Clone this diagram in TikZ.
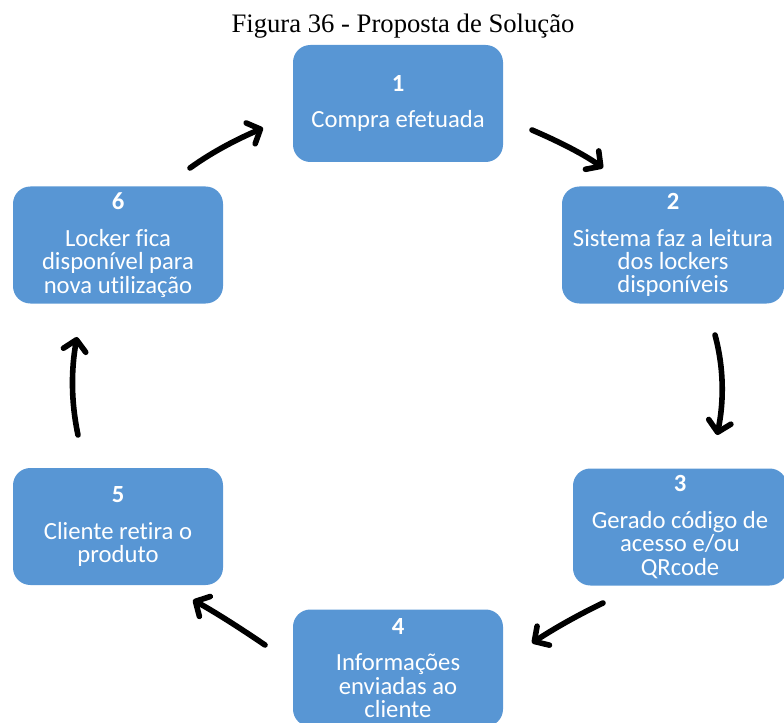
\documentclass[tikz,border=0pt]{standalone}
\usepackage{fontspec}
\setmainfont{Liberation Serif}
\newfontfamily\boxfont[Ligatures={NoCommon,NoRequired,NoContextual}]{Carlito}
\usetikzlibrary{arrows.meta}
\definecolor{boxblue}{RGB}{88,150,212}
\begin{document}
\begin{tikzpicture}[x=0.75pt,y=-0.75pt,
  stepbox/.style={fill=boxblue, rounded corners=13pt, minimum width=157.5pt,
    minimum height=87.75pt, text=white,
    font=\boxfont\fontsize{18.5}{17.5}\selectfont, align=center, inner sep=0pt},
  flow/.style={line width=4.2pt, line cap=round,
    -{Straight Barb[length=8pt,width=17pt,line width=4.2pt,round]}}]
\useasboundingbox (0,0) rectangle (784,723);
\node[font=\fontsize{20}{24}\selectfont, anchor=base] (title) at (403,33) {Figura 36 - Proposta de Solução};

\node[stepbox] (n1) at (398,103.5) {\textbf{1}\\[10pt]Compra efetuada};
\node[stepbox, minimum width=166.5pt] (n2) at (673,245) {\textbf{2}\\[10pt]Sistema faz a leitura\\dos lockers\\disponíveis};
\node[stepbox, minimum width=160.5pt] (n3) at (680,527) {\textbf{3}\\[10pt]Gerado código de\\acesso e/ou\\QRcode};
\node[stepbox] (n4) at (398,668) {\textbf{4}\\[10pt]Informações\\enviadas ao\\cliente};
\node[stepbox] (n5) at (118,526.5) {\textbf{5}\\[10pt]Cliente retira o\\produto};
\node[stepbox] (n6) at (118,245) {\textbf{6}\\[10pt]Locker fica\\disponível para\\nova utilização};

\coordinate (a12s) at (532,130);
\coordinate (a12e) at (603,168);
\coordinate (a23s) at (715,335);
\coordinate (a23e) at (717,435);
\coordinate (a34s) at (603,603);
\coordinate (a34e) at (532,643);
\coordinate (a45s) at (265,645);
\coordinate (a45e) at (193,600);
\coordinate (a56s) at (78,435);
\coordinate (a56e) at (77,337);
\coordinate (a61s) at (190,168);
\coordinate (a61e) at (263,128);

\draw[flow] (a12s) .. controls (560,142) and (585,155) .. (a12e);
\draw[flow] (a23s) .. controls (724,368) and (724,402) .. (a23e);
\draw[flow] (a34s) .. controls (578,615) and (555,628) .. (a34e);
\draw[flow] (a45s) .. controls (240,628) and (215,612) .. (a45e);
\draw[flow] (a56s) .. controls (71,402) and (71,370) .. (a56e);
\draw[flow] (a61s) .. controls (215,150) and (240,138) .. (a61e);
\end{tikzpicture}
\end{document}
